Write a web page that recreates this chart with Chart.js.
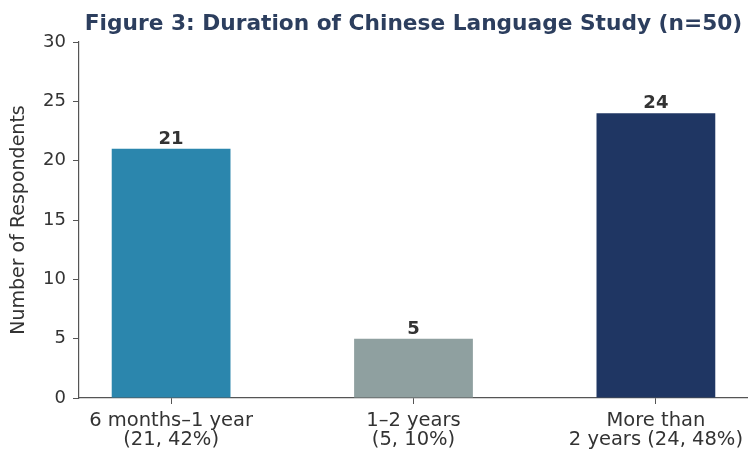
<!DOCTYPE html>
<html>
<head>
<meta charset="utf-8">
<script src="https://cdn.jsdelivr.net/npm/chart.js@4/dist/chart.umd.min.js"></script>
<style>
  html, body { margin: 0; padding: 0; background: #ffffff; }
  #wrap { width: 748px; height: 450px; }
</style>
</head>
<body>
<div id="wrap"><canvas id="c" width="748" height="450"></canvas></div>
<script>
const categories = [
  ["6 months\u20131 year", "(21, 42%)"],
  ["1\u20132 years", "(5, 10%)"],
  ["More than", "2 years (24, 48%)"]
];
const counts = [21, 5, 24];
const barColors = ["#2b86ad", "#8fa0a0", "#1f3663"];
const yTicks = [0, 5, 10, 15, 20, 25, 30];
const titleText = "Figure 3: Duration of Chinese Language Study (n=50)";
const yTitle = "Number of Respondents";

const font = "'DejaVu Sans', sans-serif";

const valueLabels = {
  id: 'valueLabels',
  afterDatasetsDraw(chart) {
    const ctx = chart.ctx;
    const meta = chart.getDatasetMeta(0);
    ctx.save();
    ctx.font = "bold 18px " + font;
    ctx.fillStyle = "#333333";
    ctx.textAlign = "center";
    ctx.textBaseline = "alphabetic";
    meta.data.forEach((bar, i) => {
      ctx.fillText(String(counts[i]), bar.x, bar.y - 5);
    });
    ctx.restore();
  }
};

new Chart(document.getElementById('c'), {
  type: 'bar',
  data: {
    datasets: [{
      data: counts.map((v, i) => ({ x: i, y: v })),
      backgroundColor: barColors,
      borderWidth: 0,
      categoryPercentage: 1,
      barPercentage: 0.49
    }]
  },
  options: {
    responsive: false,
    animation: false,
    layout: { padding: { left: 0, right: 0, top: 0, bottom: 0 } },
    plugins: {
      legend: { display: false },
      tooltip: { enabled: false },
      title: {
        display: true,
        text: titleText,
        fullSize: false,
        color: "#2c3e5e",
        font: { family: font, size: 21.7, weight: 'bold', lineHeight: 1.2 },
        padding: { top: 11, bottom: 5 }
      }
    },
    scales: {
      x: {
        type: 'linear',
        offset: false,
        min: -0.38,
        max: 2.38,
        afterBuildTicks(scale) { scale.ticks = categories.map((c, i) => ({ value: i })); },
        afterFit(scale) { scale.height = 52; scale.paddingLeft = 0; scale.paddingRight = 0; },
        ticks: {
          callback: (v) => categories[v],
          color: "#333333",
          font: { family: font, size: 19.5, lineHeight: 1.0 },
          padding: 7,
          maxRotation: 0,
          autoSkip: false
        },
        grid: { offset: false, drawOnChartArea: false, drawTicks: true, tickLength: 6, color: "#555555" },
        border: { display: true, color: "#555555", width: 1.2 }
      },
      y: {
        min: 0,
        max: 30,
        afterBuildTicks(scale) { scale.ticks = yTicks.map(v => ({ value: v })); },
        afterFit(scale) { scale.width = 79; },
        ticks: {
          color: "#333333",
          font: { family: font, size: 18 },
          padding: 7
        },
        title: {
          display: true,
          text: yTitle,
          color: "#333333",
          font: { family: font, size: 19, lineHeight: 1.1 },
          padding: { top: 9, bottom: 4 }
        },
        grid: { drawOnChartArea: false, drawTicks: true, tickLength: 6, color: "#555555" },
        border: { display: true, color: "#555555", width: 1.2 }
      }
    }
  },
  plugins: [valueLabels]
});
</script>
</body>
</html>
